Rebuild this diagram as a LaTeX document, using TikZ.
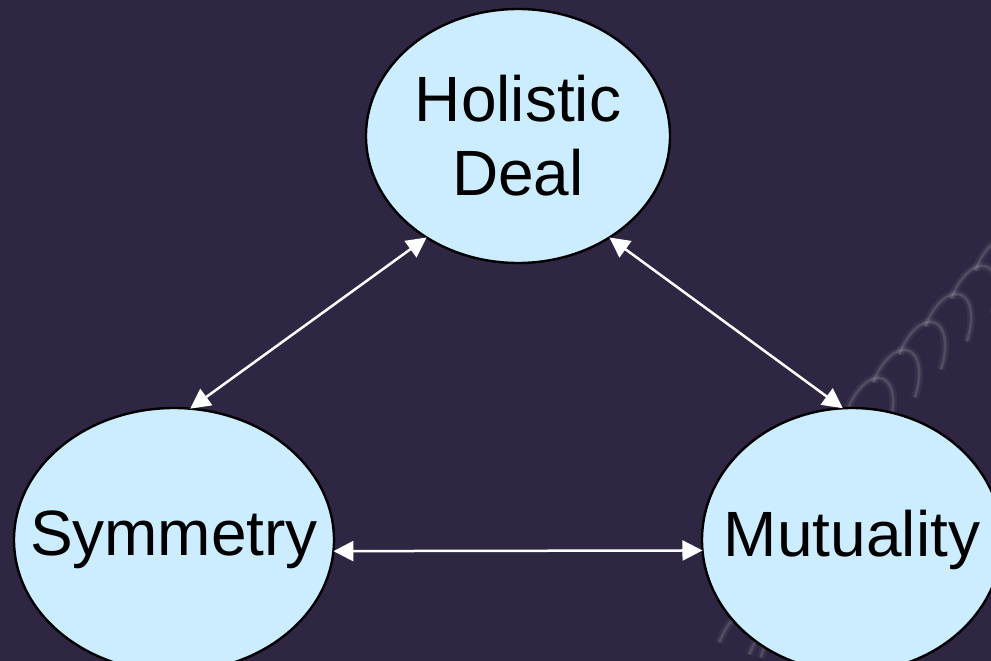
\documentclass[tikz,border=0pt]{standalone}
\usepackage{fontspec}
\setmainfont{Liberation Sans}
\usetikzlibrary{shapes.geometric,arrows.meta}
\definecolor{bgpurple}{HTML}{2E2642}
\definecolor{bubblefill}{HTML}{CCECFF}
\tikzset{
  bubble/.style={ellipse, draw=black, line width=2.4pt, fill=bubblefill,
    inner sep=0pt, outer sep=0pt},
  bubbletext/.style={align=center, inner sep=0pt,
    font=\fontsize{64}{74}\selectfont},
  link/.style={draw=white, line width=2.5pt,
    {Triangle[length=20pt,width=20pt]}-{Triangle[length=20pt,width=20pt]}},
  coil/.style={draw=white, line width=8pt, opacity=0.05},
  coilcore/.style={draw=white, line width=2.8pt, opacity=0.13}
}
\begin{document}
\begin{tikzpicture}[x=1pt,y=-1pt]
  % background
  \fill[bgpurple] (0,0) rectangle (991,661);
  \useasboundingbox (0,0) rectangle (991,661);
  \begin{scope}
    \clip (0,0) rectangle (991,661);
    % faint coil ornament on the right: a row of leaning arches
    \foreach \cx/\cy in {868/418,894/390,920/362,946/334,972/306,996/278,1018/250,
                         740/650,770/662} {
      \draw[coil, rotate around={-20:(\cx,\cy)}]
        (\cx,\cy) ++(-22,0) arc[start angle=180, end angle=360, x radius=22, y radius=42];
      \draw[coilcore, rotate around={-20:(\cx,\cy)}]
        (\cx,\cy) ++(-22,0) arc[start angle=180, end angle=360, x radius=22, y radius=42];
    }
  \end{scope}

  % bubbles
  \node[bubble, minimum width=304pt, minimum height=254pt] (hd)  at (518,136) {};
  \node[bubble, minimum width=320pt, minimum height=264pt] (sym) at (174,540) {};
  \node[bubble, minimum width=300pt, minimum height=264pt] (mut) at (852,540) {};

  \node[bubbletext] (hdtext)  at (hd)  {Holistic\\Deal};
  \node[bubbletext] (symtext) at (sym) {Symmetry};
  \node[bubbletext] (muttext) at (mut) {Mutuality};

  % two-way links
  \draw[link] (sym.83) -- (hd.228);
  \draw[link] (mut.94) -- (hd.312);
  \draw[link] (sym.-4) -- (mut.184);
\end{tikzpicture}
\end{document}
